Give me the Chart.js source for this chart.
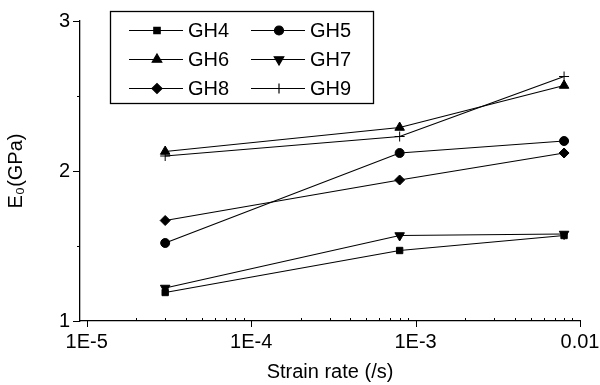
<!DOCTYPE html>
<html>
<head>
<meta charset="utf-8">
<script src="https://cdn.jsdelivr.net/npm/chart.js@4"></script>
<style>
	html, body { margin: 0; padding: 0; background: #fff; }
	#wrap { width: 600px; height: 385px; }
</style>
</head>
<body>
<div id="wrap"><canvas id="e0Chart"></canvas></div>
<script>
// strain rates (/s)
const strainRates = [3e-5, 8e-4, 8e-3];
const seriesNames = ["GH4", "GH5", "GH6", "GH7", "GH8", "GH9"];
const gh4 = [1.19, 1.47, 1.57];
const gh5 = [1.52, 2.12, 2.20];
const gh6 = [2.13, 2.29, 2.57];
const gh7 = [1.22, 1.57, 1.58];
const gh8 = [1.67, 1.94, 2.12];
const gh9 = [2.10, 2.23, 2.63];
const xTickValues = [1e-5, 1e-4, 1e-3, 1e-2];
const xTickLabels = ["1E-5", "1E-4", "1E-3", "0.01"];
const yTickValues = [1, 2, 3];
const yTickLabels = ["1", "2", "3"];

const FONT = "'Liberation Sans', Arial, sans-serif";
const markers = [
	{pointStyle: 'rect', radius: 4.5, rotation: 0},
	{pointStyle: 'circle', radius: 4.5, rotation: 0},
	{pointStyle: 'triangle', radius: 5.5, rotation: 0},
	{pointStyle: 'triangle', radius: 5.5, rotation: 180},
	{pointStyle: 'rectRot', radius: 5, rotation: 0},
	{pointStyle: 'cross', radius: 5, rotation: 0}
];

const allSeries = [gh4, gh5, gh6, gh7, gh8, gh9];
const datasets = allSeries.map((vals, i) => ({
	label: seriesNames[i],
	data: vals.map((v, j) => ({x: strainRates[j], y: v})),
	borderColor: '#000',
	backgroundColor: '#000',
	borderWidth: 1.2,
	pointStyle: markers[i].pointStyle,
	pointRadius: markers[i].radius,
	pointRotation: markers[i].rotation,
	pointBorderWidth: 1,
	pointBackgroundColor: '#000',
	pointBorderColor: '#000',
	tension: 0
}));

// tick marks and the boxed legend
const decorations = {
	id: 'decorations',
	afterDraw(chart) {
		const ctx = chart.ctx;
		const xs = chart.scales.x, ys = chart.scales.y;
		const area = chart.chartArea;
		ctx.save();
		ctx.strokeStyle = '#000';
		ctx.lineWidth = 1;
		ctx.beginPath();
		// x ticks: major out, minor in
		for (let d = -5; d <= -2; d++) {
			for (let k = 1; k <= 9; k++) {
				const v = k * Math.pow(10, d);
				if (v > xs.max * 1.0001 || v < xs.min) continue;
				const px = Math.round(xs.getPixelForValue(v)) + 0.5;
				if (k == 1) {
					ctx.moveTo(px, area.bottom); ctx.lineTo(px, area.bottom + 6);
				} else {
					ctx.moveTo(px, area.bottom); ctx.lineTo(px, area.bottom - 3);
				}
			}
		}
		// y ticks
		[1, 1.5, 2, 2.5, 3].forEach(v => {
			const py = Math.round(ys.getPixelForValue(v)) + 0.5;
			const len = Number.isInteger(v) ? 7 : 3;
			ctx.moveTo(area.left, py); ctx.lineTo(area.left - len, py);
		});
		ctx.stroke();

		// legend
		const box = {left: 110, top: 11, right: 373, bottom: 103};
		ctx.lineWidth = 1.3;
		ctx.strokeRect(box.left + 0.5, box.top + 0.5, box.right - box.left, box.bottom - box.top);
		const rowY = [30, 59, 88];
		const colX = [129, 251];
		ctx.font = "20px " + FONT;
		ctx.textBaseline = 'middle';
		ctx.fillStyle = '#000';
		chart.data.datasets.forEach((ds, i) => {
			const x0 = colX[i % 2], y = rowY[Math.floor(i / 2)];
			ctx.lineWidth = 1.2;
			ctx.beginPath();
			ctx.moveTo(x0, y + 0.5); ctx.lineTo(x0 + 54, y + 0.5);
			ctx.stroke();
			Chart.helpers.drawPoint(ctx, {
				pointStyle: ds.pointStyle,
				radius: ds.pointRadius,
				rotation: ds.pointRotation,
				borderWidth: 1
			}, x0 + 28, y + 0.5);
			ctx.fillText(ds.label, x0 + 59, y + 1);
		});
		ctx.restore();
	}
};

new Chart(document.getElementById('e0Chart'), {
	type: 'line',
	data: {datasets: datasets},
	plugins: [decorations],
	options: {
		responsive: true,
		maintainAspectRatio: false,
		animation: false,
		layout: {padding: {top: 21, right: 20, left: 0, bottom: 0}},
		plugins: {
			legend: {display: false},
			tooltip: {enabled: false}
		},
		scales: {
			x: {
				type: 'logarithmic',
				min: 9.1e-6,
				max: 1e-2,
				afterBuildTicks: (scale) => { scale.ticks = xTickValues.map(v => ({value: v, major: true})); },
				afterFit: (scale) => {
					scale.height = 64;
					scale.paddingLeft = 0;
					scale.paddingRight = 0;
				},
				grid: {display: false, drawTicks: false},
				border: {display: true, color: '#000', width: 1.3},
				ticks: {
					autoSkip: false,
					maxRotation: 0,
					padding: 9,
					color: '#000',
					font: {family: FONT, size: 20},
					callback: (value) => {
						const idx = xTickValues.findIndex(t => Math.abs(t - value) / t < 1e-6);
						return idx >= 0 ? xTickLabels[idx] : '';
					}
				},
				title: {
					display: true,
					text: 'Strain rate (/s)',
					color: '#000',
					font: {family: FONT, size: 20},
					padding: {top: 0, bottom: 1}
				}
			},
			y: {
				min: 1,
				max: 3,
				afterBuildTicks: (scale) => { scale.ticks = yTickValues.map(v => ({value: v})); },
				afterFit: (scale) => {
					scale.width = 80;
					scale.paddingTop = 0;
					scale.paddingBottom = 0;
				},
				grid: {display: false, drawTicks: false},
				border: {display: true, color: '#000', width: 1.3},
				ticks: {
					padding: 10,
					color: '#000',
					font: {family: FONT, size: 20},
					callback: (value) => {
						const idx = yTickValues.indexOf(value);
						return idx >= 0 ? yTickLabels[idx] : '';
					}
				},
				title: {
					display: true,
					text: 'E₀(GPa)',
					color: '#000',
					font: {family: FONT, size: 20},
					padding: {top: 4, bottom: 0}
				}
			}
		}
	}
});
</script>
</body>
</html>
